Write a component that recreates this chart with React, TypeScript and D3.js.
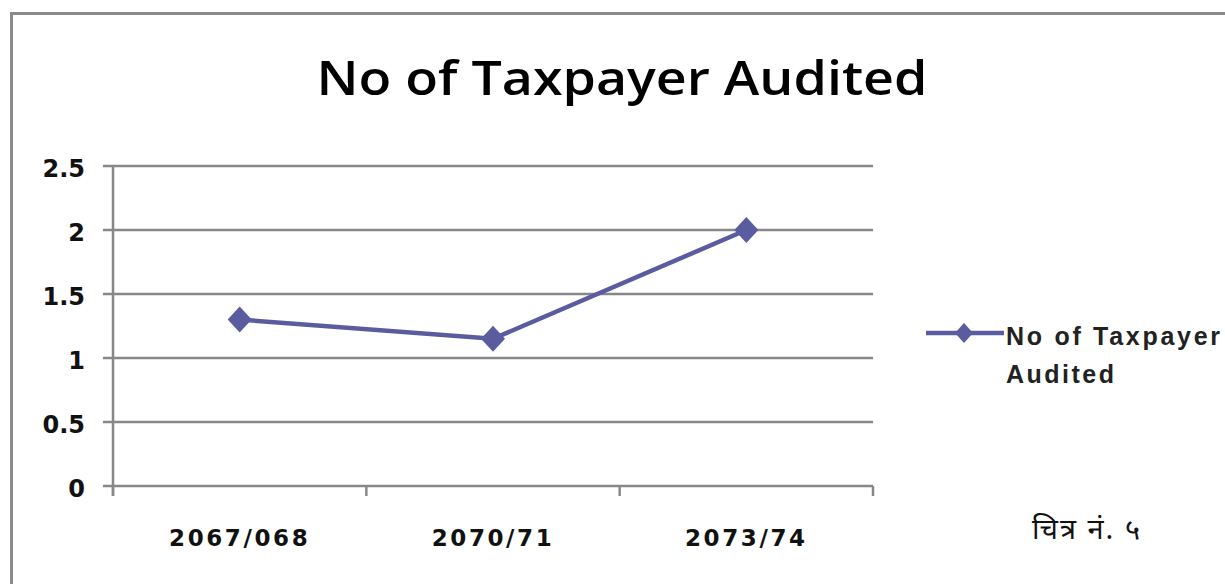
import React from "react";
import * as d3 from "d3";

const categories: string[] = ["2067/068", "2070/71", "2073/74"];
const values: number[] = [1.3, 1.15, 2];
const yTicks: number[] = [0, 0.5, 1, 1.5, 2, 2.5];
const yTickLabels: string[] = ["0", "0.5", "1", "1.5", "2", "2.5"];
const title = "No of Taxpayer Audited";
const seriesName: string[] = ["No of Taxpayer", "Audited"];
const caption = "चित्र नं. ५";

const W = 1225;
const H = 584;
const plot = { left: 113, right: 873, top: 166, bottom: 486 };
const lineColor = "#5a5c9f";
const gridColor = "#888888";

export default function App() {
  const x = d3.scaleBand<string>().domain(categories).range([plot.left, plot.right]).padding(0);
  const y = d3.scaleLinear().domain([0, 2.5]).range([plot.bottom, plot.top]);
  const cx = (c: string) => (x(c) as number) + x.bandwidth() / 2;
  const line = d3
    .line<number>()
    .x((_, i) => cx(categories[i]))
    .y((d) => y(d));
  const diamond = (px: number, py: number, rx: number, ry: number) =>
    `M${px},${py - ry}L${px + rx},${py}L${px},${py + ry}L${px - rx},${py}Z`;
  const xTickPos = [plot.left, ...categories.map((c) => (x(c) as number) + x.bandwidth())];
  const legendWidths = [214, 108];

  return (
    <svg
      width={W}
      height={H}
      style={{ position: "absolute", left: 0, top: 0, background: "#fff" }}
    >
      <rect x={0} y={0} width={W} height={H} fill="#fff" />
      {/* outer frame */}
      <rect x={11.5} y={13.5} width={W + 20} height={H + 20} fill="none" stroke="#8a8a8a" strokeWidth={3} />
      {/* title */}
      <text
        x={622}
        y={95}
        textAnchor="middle"
        fontFamily="'Open Sans', 'Noto Sans', sans-serif"
        fontWeight={600}
        fontSize={47}
        fill="#000"
        textLength={611}
        lengthAdjust="spacingAndGlyphs"
      >
        {title}
      </text>
      {/* gridlines */}
      {yTicks.map((t) => (
        <line
          key={"g" + t}
          x1={plot.left - 10}
          x2={plot.right}
          y1={y(t)}
          y2={y(t)}
          stroke={gridColor}
          strokeWidth={2.5}
        />
      ))}
      {/* y axis */}
      <line x1={plot.left} x2={plot.left} y1={plot.top} y2={plot.bottom + 10} stroke={gridColor} strokeWidth={2.5} />
      {/* x ticks */}
      {xTickPos.map((p, i) => (
        <line key={"xt" + i} x1={p} x2={p} y1={plot.bottom} y2={plot.bottom + 10} stroke={gridColor} strokeWidth={2.5} />
      ))}
      {/* y labels */}
      {yTicks.map((t, i) => (
        <text
          key={"yl" + t}
          x={85}
          y={y(t) + 11}
          textAnchor="end"
          fontFamily="'DejaVu Sans', Verdana, sans-serif"
          fontWeight="bold"
          fontSize={24}
          fill="#111"
        >
          {yTickLabels[i]}
        </text>
      ))}
      {/* x labels */}
      {categories.map((c) => (
        <text
          key={"xl" + c}
          x={cx(c)}
          y={546}
          textAnchor="middle"
          fontFamily="'DejaVu Sans', Verdana, sans-serif"
          fontWeight="bold"
          fontSize={23}
          letterSpacing={2.6}
          fill="#111"
        >
          {c}
        </text>
      ))}
      {/* series line */}
      <path d={line(values) || ""} fill="none" stroke={lineColor} strokeWidth={4.5} />
      {values.map((v, i) => (
        <path key={"m" + i} d={diamond(cx(categories[i]), y(v), 12, 13)} fill={lineColor} />
      ))}
      {/* legend */}
      <line x1={926} x2={1004} y1={333} y2={333} stroke={lineColor} strokeWidth={4.5} />
      <path d={diamond(964, 333, 9, 10)} fill={lineColor} />
      {seriesName.map((s, i) => (
        <text
          key={"lg" + i}
          x={1006}
          y={345 + i * 38}
          fontFamily="'Liberation Sans', Arial, sans-serif"
          fontWeight="bold"
          fontSize={25}
          fill="#222"
          textLength={legendWidths[i]}
          lengthAdjust="spacing"
        >
          {s}
        </text>
      ))}
      {/* caption */}
      <text
        x={1032}
        y={539}
        fontFamily="'Noto Sans', 'Noto Sans Devanagari', sans-serif"
        fontSize={29}
        fill="#111"
        textLength={108}
        lengthAdjust="spacing"
      >
        {caption}
      </text>
    </svg>
  );
}
